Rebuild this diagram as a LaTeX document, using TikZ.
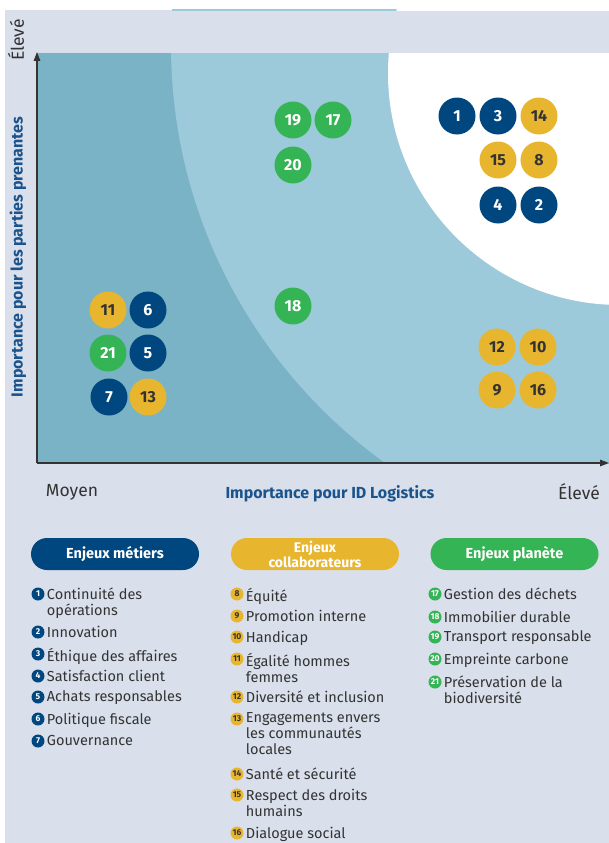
\documentclass[tikz,border=0pt]{standalone}
\usepackage{fontspec}
\setmainfont{Fira Sans}
\usetikzlibrary{arrows.meta,positioning}
\definecolor{fondgris}{HTML}{D9DFEB}
\definecolor{zonefonce}{HTML}{7AB3C6}
\definecolor{zoneclair}{HTML}{9DCADA}
\definecolor{bleumetier}{HTML}{00477F}
\definecolor{jaunecollab}{HTML}{E8B52E}
\definecolor{vertplanete}{HTML}{34B454}
\definecolor{texte}{HTML}{333333}
\definecolor{titrebleu}{HTML}{1B548C}
\tikzset{
	enjeu/.style={circle,minimum size=37pt,inner sep=0pt,font=\bfseries\fontsize{16}{16}\selectfont},
	metier/.style={enjeu,fill=bleumetier,text=white},
	collab/.style={enjeu,fill=jaunecollab,text=texte},
	planete/.style={enjeu,fill=vertplanete,text=white},
	puce/.style={circle,minimum size=13pt,inner sep=0pt,font=\bfseries\fontsize{8.5}{8.5}\selectfont},
	pmetier/.style={puce,fill=bleumetier,text=white},
	pcollab/.style={puce,fill=jaunecollab,text=texte},
	pplanete/.style={puce,fill=vertplanete,text=white},
	legende/.style={anchor=north west,align=left,inner sep=0pt,yshift=1.5pt,text=texte,font=\fontsize{14.5}{16}\selectfont},
	pilule/.style={rounded corners=16pt,minimum width=168pt,minimum height=32pt,inner sep=0pt,text=white,align=center,font=\bfseries\fontsize{14.5}{15}\selectfont},
	axe/.style={line width=1.4pt,draw=texte,-{Triangle[length=9pt,width=6.5pt]}}
}
\begin{document}
\begin{tikzpicture}[x=1pt,y=-1pt]
	\useasboundingbox (0,0) rectangle (609,843);
	\fill[fondgris] (5,10) rectangle (609,843);
	\fill[zonefonce] (37,53) rectangle (609,463);
	\begin{scope}
		\clip (37,10) rectangle (609,463);
		\fill[zoneclair] (686,45) circle (515);
		\fill[white] (620,73) circle (232);
	\end{scope}
	\fill[fondgris] (5,11) rectangle (609,53);
	\coordinate (o) at (37,463);
	\coordinate (ymax) at (37,52);
	\coordinate (xmax) at (609,463);
	\draw[axe] (o) -- (ymax);
	\draw[axe] (o) -- (xmax);
	\node[rotate=90,text=texte,font=\fontsize{17.5}{17.5}\selectfont] (hauty) at (16,40) {Élevé};
	\node[rotate=90,text=titrebleu,font=\bfseries\fontsize{16}{16}\selectfont] (titrey) at (18,257) {Importance pour les parties prenantes};
	\node[text=texte,font=\fontsize{17.5}{17.5}\selectfont] (moyen) at (72,492) {Moyen};
	\node[text=texte,font=\fontsize{17.5}{17.5}\selectfont] (hautx) at (579,492) {Élevé};
	\node[text=titrebleu,font=\bfseries\fontsize{16}{16}\selectfont] (titrex) at (330,494) {Importance pour ID Logistics};

	\node[metier] (e1) at (457,116) {1};
	\node[metier] (e3) at (498,116) {3};
	\node[collab] (e14) at (539,116) {14};
	\node[collab] (e15) at (498,160) {15};
	\node[collab] (e8) at (539,160) {8};
	\node[metier] (e4) at (498,205) {4};
	\node[metier] (e2) at (539,205) {2};
	\node[planete] (e19) at (293,120) {19};
	\node[planete] (e17) at (333,120) {17};
	\node[planete] (e20) at (293,165) {20};
	\node[planete] (e18) at (293,306) {18};
	\node[collab] (e11) at (108,310) {11};
	\node[metier] (e6) at (148,310) {6};
	\node[planete] (e21) at (108,353) {21};
	\node[metier] (e5) at (148,353) {5};
	\node[metier] (e7) at (109,397) {7};
	\node[collab] (e13) at (148,397) {13};
	\node[collab] (e12) at (497,347) {12};
	\node[collab] (e10) at (538,347) {10};
	\node[collab] (e9) at (497,390) {9};
	\node[collab] (e16) at (538,390) {16};

	\node[pilule,fill=bleumetier] (gmetier) at (115,554) {Enjeux métiers};
	\node[pilule,fill=jaunecollab,font=\bfseries\fontsize{14}{15}\selectfont] (gcollab) at (315,554) {Enjeux\\collaborateurs};
	\node[pilule,fill=vertplanete] (gplanete) at (514.5,554) {Enjeux planète};

	\node[pmetier] (p1) at (38,594) {1};
	\node[legende,right=4pt of p1.north east,anchor=north west] (l1) {Continuité des\\opérations};
	\node[pmetier] (p2) at (38,632) {2};
	\node[legende,right=4pt of p2.north east,anchor=north west] (l2) {Innovation};
	\node[pmetier] (p3) at (38,654) {3};
	\node[legende,right=4pt of p3.north east,anchor=north west] (l3) {Éthique des affaires};
	\node[pmetier] (p4) at (38,676) {4};
	\node[legende,right=4pt of p4.north east,anchor=north west] (l4) {Satisfaction client};
	\node[pmetier] (p5) at (38,697) {5};
	\node[legende,right=4pt of p5.north east,anchor=north west] (l5) {Achats responsables};
	\node[pmetier] (p6) at (38,719) {6};
	\node[legende,right=4pt of p6.north east,anchor=north west] (l6) {Politique fiscale};
	\node[pmetier] (p7) at (38,741) {7};
	\node[legende,right=4pt of p7.north east,anchor=north west] (l7) {Gouvernance};

	\node[pcollab] (p8) at (237,594) {8};
	\node[legende,right=4pt of p8.north east,anchor=north west] (l8) {Équité};
	\node[pcollab] (p9) at (237,616) {9};
	\node[legende,right=4pt of p9.north east,anchor=north west] (l9) {Promotion interne};
	\node[pcollab] (p10) at (237,637) {10};
	\node[legende,right=4pt of p10.north east,anchor=north west] (l10) {Handicap};
	\node[pcollab] (p11) at (237,659) {11};
	\node[legende,right=4pt of p11.north east,anchor=north west] (l11) {Égalité hommes\\femmes};
	\node[pcollab] (p12) at (237,697) {12};
	\node[legende,right=4pt of p12.north east,anchor=north west] (l12) {Diversité et inclusion};
	\node[pcollab] (p13) at (237,719) {13};
	\node[legende,right=4pt of p13.north east,anchor=north west] (l13) {Engagements envers\\les communautés\\locales};
	\node[pcollab] (p14) at (237,774) {14};
	\node[legende,right=4pt of p14.north east,anchor=north west] (l14) {Santé et sécurité};
	\node[pcollab] (p15) at (237,795) {15};
	\node[legende,right=4pt of p15.north east,anchor=north west] (l15) {Respect des droits\\humains};
	\node[pcollab] (p16) at (237,833) {16};
	\node[legende,right=4pt of p16.north east,anchor=north west] (l16) {Dialogue social};

	\node[pplanete] (p17) at (435,594) {17};
	\node[legende,right=4pt of p17.north east,anchor=north west] (l17) {Gestion des déchets};
	\node[pplanete] (p18) at (435,617) {18};
	\node[legende,right=4pt of p18.north east,anchor=north west] (l18) {Immobilier durable};
	\node[pplanete] (p19) at (435,637) {19};
	\node[legende,right=4pt of p19.north east,anchor=north west] (l19) {Transport responsable};
	\node[pplanete] (p20) at (435,659) {20};
	\node[legende,right=4pt of p20.north east,anchor=north west] (l20) {Empreinte carbone};
	\node[pplanete] (p21) at (435,682) {21};
	\node[legende,right=4pt of p21.north east,anchor=north west] (l21) {Préservation de la\\biodiversité};
\end{tikzpicture}
\end{document}
